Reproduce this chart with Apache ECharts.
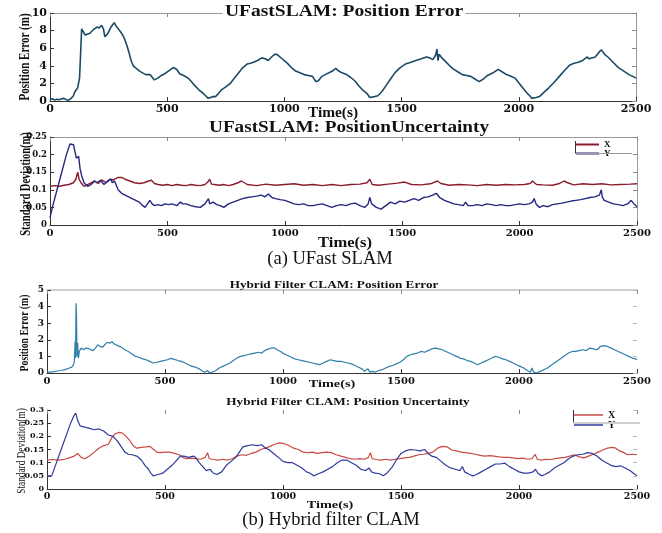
<!DOCTYPE html>
<html><head><meta charset="utf-8">
<script src="https://cdn.jsdelivr.net/npm/echarts/dist/echarts.min.js"></script>
<style>html,body{margin:0;padding:0;background:#fff}#c{width:662px;height:533px}</style>
</head><body><div id="c"></div>
<script>
// ---------- DATA ----------
const xTicks = [0, 500, 1000, 1500, 2000, 2500];

// (a) UFastSLAM: Position Error
const t1 = [0,10,20,30,40,50,60,70,80,90,
  100,105,112,118,126,130,135,140,150,157,
  170,185,200,210,220,228,234,245,260,274,
  285,300,310,319,328,337,346,355,368,382,
  395,409,427,436,445,460,475,490,505,515,
  526,532,540,553,570,589,600,616,634,652,
  664,675,685,695,706,720,733,750,769,787,
  805,823,841,855,868,885,904,918,931,945,
  958,968,976,990,1012,1030,1048,1066,1084,1102,
  1120,1128,1134,1145,1160,1174,1190,1205,1219,1232,
  1246,1265,1282,1300,1318,1336,1354,1364,1372,1385,
  1399,1417,1435,1453,1471,1494,1516,1540,1561,1584,
  1606,1620,1633,1645,1651,1655,1660,1672,1687,1705,
  1723,1741,1759,1777,1795,1813,1831,1849,1867,1890,
  1912,1930,1948,1966,1984,2002,2020,2035,2047,2055,
  2060,2074,2088,2108,2128,2150,2173,2196,2218,2236,
  2254,2272,2290,2300,2308,2326,2344,2353,2366,2380,
  2402,2425,2448,2470,2486,2500];
const err1 = [0.15,0.25,0.1,0.2,0.15,0.25,0.3,0.15,0.1,0.3,
  0.6,1.0,1.2,1.5,2.6,5.0,8.2,8.0,7.5,7.4,
  7.7,8.1,8.4,8.3,8.6,8.2,7.3,7.6,8.4,8.9,
  8.4,7.9,7.5,7.0,6.3,5.5,4.6,4.0,3.7,3.4,
  3.2,3.0,3.0,2.7,2.4,2.6,2.9,3.1,3.4,3.6,
  3.8,3.9,3.6,3.1,2.9,2.6,2.3,1.8,1.3,0.9,
  0.6,0.3,0.4,0.5,0.5,0.9,1.3,1.6,2.0,2.6,
  3.2,3.8,4.2,4.3,4.4,4.6,4.9,4.8,4.6,5.0,
  5.3,5.3,5.1,4.8,4.3,3.8,3.4,3.2,3.0,2.9,
  2.8,2.6,2.2,2.3,2.8,3.0,3.2,3.4,3.7,3.4,
  3.2,3.0,2.7,2.3,1.7,1.2,0.8,0.4,0.2,0.5,
  0.6,1.1,1.8,2.5,3.2,3.8,4.2,4.4,4.6,4.8,
  5.0,4.9,4.7,5.2,5.9,4.6,5.3,4.9,4.5,4.0,
  3.6,3.3,3.0,2.9,2.8,2.5,2.2,2.5,2.9,3.2,
  3.6,3.3,3.0,2.8,2.6,2.0,1.4,0.9,0.6,0.3,
  0.2,0.4,0.5,1.0,1.5,2.1,2.8,3.5,4.1,4.3,
  4.4,4.6,5.0,4.8,4.6,5.0,5.6,5.8,5.3,5.0,
  4.4,3.8,3.4,3.0,2.8,2.6];

// (a) UFastSLAM: Position Uncertainty, Y
const tY2 = [0,10,30,50,70,85,100,106,112,122,
  128,135,145,160,175,190,200,215,230,245,
  260,265,275,290,305,320,335,350,365,380,
  395,405,415,425,435,445,460,475,490,505,
  520,540,555,565,580,600,620,640,660,675,
  680,695,710,725,740,760,780,800,820,840,
  860,880,900,915,930,945,960,980,1000,1020,
  1040,1060,1080,1100,1120,1140,1160,1180,1200,1220,
  1240,1260,1280,1300,1320,1340,1355,1362,1370,1390,
  1410,1430,1450,1470,1490,1510,1530,1550,1570,1590,
  1610,1630,1645,1660,1680,1700,1720,1740,1760,1770,
  1780,1800,1820,1840,1860,1880,1900,1920,1940,1960,
  1980,2000,2020,2040,2055,2062,2070,2085,2100,2120,
  2140,2160,2180,2200,2220,2240,2260,2280,2300,2320,
  2340,2348,2352,2360,2380,2400,2420,2440,2460,2475,
  2490,2500];
const sdY2 = [0.02,0.05,0.10,0.15,0.2,0.23,0.228,0.21,0.19,0.195,
  0.16,0.14,0.12,0.11,0.115,0.125,0.12,0.127,0.115,0.125,
  0.13,0.12,0.125,0.1,0.09,0.085,0.08,0.075,0.07,0.065,
  0.055,0.05,0.06,0.07,0.06,0.055,0.058,0.055,0.06,0.058,
  0.06,0.055,0.065,0.06,0.06,0.055,0.052,0.05,0.06,0.075,
  0.06,0.065,0.058,0.055,0.05,0.06,0.065,0.07,0.075,0.078,
  0.08,0.082,0.085,0.08,0.088,0.078,0.075,0.072,0.07,0.065,
  0.06,0.058,0.06,0.055,0.055,0.058,0.06,0.055,0.05,0.055,
  0.058,0.055,0.06,0.062,0.055,0.05,0.06,0.078,0.06,0.05,
  0.045,0.055,0.065,0.06,0.068,0.065,0.07,0.075,0.07,0.078,
  0.08,0.085,0.09,0.078,0.07,0.065,0.06,0.058,0.055,0.065,
  0.055,0.055,0.058,0.055,0.06,0.058,0.055,0.058,0.055,0.055,
  0.058,0.06,0.058,0.06,0.065,0.075,0.06,0.05,0.055,0.052,
  0.058,0.06,0.062,0.065,0.068,0.07,0.072,0.075,0.078,0.08,
  0.085,0.1,0.08,0.07,0.065,0.06,0.058,0.055,0.06,0.07,
  0.058,0.052];

// (a) UFastSLAM: Position Uncertainty, X
const tX2 = [0,20,40,60,80,100,110,118,124,132,
  145,160,175,190,205,220,240,255,270,290,
  305,320,340,360,380,400,420,432,445,460,
  480,500,520,540,560,580,600,620,640,660,
  672,680,688,700,720,740,760,780,800,815,
  840,880,920,960,1000,1040,1080,1120,1160,1200,
  1240,1280,1320,1350,1362,1372,1400,1440,1480,1510,
  1540,1580,1620,1650,1665,1700,1740,1780,1820,1860,
  1900,1940,1980,2020,2045,2055,2062,2072,2100,2140,
  2170,2190,2205,2230,2270,2310,2350,2390,2430,2470,
  2500];
const sdX2 = [0.11,0.112,0.11,0.113,0.115,0.12,0.13,0.15,0.13,0.12,
  0.11,0.115,0.12,0.125,0.118,0.128,0.12,0.13,0.128,0.135,
  0.135,0.13,0.125,0.12,0.118,0.12,0.125,0.127,0.118,0.115,
  0.113,0.115,0.112,0.115,0.113,0.112,0.115,0.113,0.112,0.115,
  0.122,0.13,0.116,0.115,0.113,0.115,0.112,0.115,0.12,0.125,
  0.115,0.112,0.116,0.113,0.115,0.117,0.113,0.115,0.112,0.115,
  0.112,0.115,0.116,0.12,0.13,0.115,0.113,0.116,0.119,0.122,
  0.115,0.114,0.117,0.125,0.118,0.113,0.115,0.114,0.112,0.115,
  0.113,0.115,0.114,0.115,0.118,0.125,0.13,0.115,0.114,0.113,
  0.118,0.125,0.12,0.114,0.117,0.115,0.117,0.114,0.115,0.116,
  0.117];

// (b) Hybrid Filter CLAM: Position Error
const t3 = [0,15,30,45,60,75,85,95,105,112,
  116,119,121,123,125,127,130,133,137,145,
  155,165,180,195,205,215,225,235,245,255,
  265,275,285,300,315,330,345,360,375,390,
  405,420,435,450,465,480,495,510,525,540,
  555,570,585,600,615,630,645,660,670,680,
  690,700,715,730,745,760,775,790,805,820,
  835,850,865,880,895,910,925,940,955,965,
  975,990,1005,1020,1035,1050,1065,1080,1095,1110,
  1125,1140,1155,1170,1185,1200,1215,1230,1245,1260,
  1275,1290,1305,1320,1335,1345,1352,1360,1368,1380,
  1390,1405,1420,1435,1450,1465,1480,1495,1510,1525,
  1540,1555,1570,1585,1600,1615,1630,1645,1660,1675,
  1690,1705,1720,1735,1750,1765,1780,1795,1810,1825,
  1840,1855,1870,1885,1900,1915,1930,1945,1960,1975,
  1990,2005,2020,2035,2048,2055,2062,2075,2090,2105,
  2120,2135,2150,2165,2180,2195,2210,2225,2240,2255,
  2270,2285,2300,2315,2330,2345,2360,2375,2390,2405,
  2420,2435,2450,2465,2480,2495,2500];
const err3 = [0.05,0.05,0.08,0.12,0.15,0.2,0.25,0.3,0.35,0.5,
  0.7,1.9,0.9,4.2,3.5,1.0,1.8,0.9,1.3,1.5,
  1.4,1.5,1.45,1.35,1.5,1.7,1.6,1.55,1.7,1.85,
  1.8,1.88,1.75,1.65,1.55,1.4,1.3,1.15,1.0,0.95,
  0.85,0.8,0.7,0.6,0.65,0.7,0.75,0.8,0.88,0.82,
  0.75,0.7,0.6,0.5,0.4,0.35,0.25,0.1,0.05,0.15,
  0.0,0.05,0.15,0.3,0.4,0.5,0.6,0.75,0.9,1.0,
  1.05,1.1,1.15,1.2,1.25,1.2,1.38,1.45,1.52,1.5,
  1.4,1.3,1.15,1.05,0.95,0.85,0.8,0.75,0.7,0.65,
  0.6,0.55,0.5,0.6,0.7,0.8,0.75,0.7,0.7,0.65,
  0.6,0.55,0.45,0.35,0.25,0.1,0.0,0.25,0.05,0.1,
  0.05,0.15,0.2,0.3,0.4,0.45,0.55,0.65,0.8,1.0,
  1.1,1.15,1.2,1.3,1.25,1.35,1.45,1.5,1.45,1.4,
  1.3,1.2,1.1,1.0,0.9,0.85,0.75,0.7,0.6,0.5,
  0.6,0.7,0.8,0.9,1.0,0.95,0.85,0.8,0.7,0.6,
  0.5,0.4,0.3,0.15,0.05,0.3,0.05,0.0,0.1,0.2,
  0.3,0.45,0.6,0.75,0.9,1.05,1.2,1.3,1.3,1.35,
  1.4,1.35,1.5,1.45,1.4,1.6,1.65,1.6,1.5,1.4,
  1.3,1.2,1.1,1.0,0.9,0.85,0.8];

// (b) Hybrid Filter CLAM: Position Uncertainty, Y
const tY4 = [0,20,40,60,80,100,115,122,130,140,
  160,180,200,220,240,260,280,300,315,330,
  345,360,380,400,415,430,440,450,470,490,
  510,530,550,565,580,600,620,630,645,660,
  675,690,705,720,740,760,780,800,815,830,
  850,870,890,910,925,940,960,980,1000,1020,
  1040,1060,1080,1100,1115,1130,1150,1170,1190,1210,
  1230,1250,1270,1290,1310,1330,1350,1365,1375,1390,
  1410,1425,1440,1460,1480,1500,1520,1540,1560,1580,
  1600,1615,1630,1650,1670,1690,1710,1730,1750,1760,
  1770,1790,1805,1820,1840,1860,1880,1900,1920,1940,
  1960,1980,2000,2020,2040,2060,2070,2080,2095,2110,
  2130,2150,2170,2190,2210,2230,2250,2270,2290,2310,
  2330,2350,2370,2390,2410,2430,2450,2470,2485,2500];
const sdY4 = [0.05,0.05,0.1,0.15,0.2,0.25,0.28,0.288,0.26,0.24,
  0.235,0.23,0.225,0.228,0.22,0.205,0.2,0.18,0.16,0.14,
  0.132,0.13,0.125,0.11,0.09,0.075,0.06,0.05,0.055,0.06,
  0.075,0.09,0.11,0.125,0.125,0.12,0.125,0.12,0.1,0.085,
  0.07,0.075,0.06,0.055,0.065,0.09,0.105,0.12,0.14,0.16,
  0.165,0.168,0.165,0.168,0.155,0.15,0.135,0.12,0.105,0.1,
  0.1,0.09,0.08,0.065,0.06,0.05,0.058,0.065,0.075,0.085,
  0.1,0.11,0.11,0.1,0.09,0.075,0.07,0.08,0.065,0.06,
  0.058,0.05,0.06,0.08,0.11,0.135,0.145,0.15,0.148,0.145,
  0.15,0.135,0.125,0.12,0.105,0.09,0.08,0.075,0.07,0.085,
  0.065,0.055,0.05,0.055,0.065,0.075,0.085,0.095,0.095,0.098,
  0.085,0.075,0.065,0.06,0.06,0.065,0.075,0.06,0.05,0.055,
  0.065,0.08,0.09,0.1,0.115,0.125,0.13,0.132,0.138,0.135,
  0.125,0.11,0.1,0.09,0.085,0.088,0.08,0.07,0.06,0.05];

// (b) Hybrid Filter CLAM: Position Uncertainty, X
const tX4 = [0,25,50,75,100,115,130,145,160,180,
  200,220,240,260,275,290,305,320,335,350,
  365,380,400,420,435,450,465,480,500,520,
  540,560,575,590,610,630,650,670,680,688,
  705,725,745,765,785,805,825,845,865,885,
  905,925,945,965,985,1005,1025,1045,1065,1085,
  1105,1125,1145,1165,1185,1205,1225,1245,1265,1285,
  1305,1325,1345,1362,1370,1378,1395,1415,1435,1455,
  1475,1495,1515,1535,1555,1575,1595,1615,1635,1655,
  1675,1695,1715,1735,1755,1775,1795,1815,1835,1855,
  1875,1895,1915,1935,1955,1975,1995,2015,2035,2055,
  2068,2078,2095,2115,2135,2155,2175,2195,2215,2235,
  2255,2275,2295,2315,2335,2355,2375,2395,2410,2425,
  2440,2460,2480,2500];
const sdX4 = [0.11,0.112,0.11,0.113,0.12,0.125,0.135,0.12,0.115,0.125,
  0.14,0.155,0.165,0.17,0.195,0.21,0.215,0.212,0.2,0.185,
  0.165,0.155,0.158,0.16,0.162,0.152,0.14,0.138,0.14,0.14,
  0.135,0.13,0.12,0.115,0.117,0.115,0.113,0.12,0.138,0.115,
  0.112,0.11,0.113,0.11,0.115,0.125,0.13,0.128,0.135,0.14,
  0.15,0.155,0.162,0.17,0.175,0.172,0.165,0.155,0.15,0.14,
  0.138,0.14,0.135,0.138,0.14,0.138,0.13,0.125,0.12,0.115,
  0.113,0.115,0.113,0.12,0.138,0.115,0.112,0.11,0.113,0.11,
  0.113,0.115,0.118,0.12,0.125,0.13,0.132,0.135,0.14,0.155,
  0.162,0.16,0.148,0.145,0.14,0.138,0.135,0.132,0.128,0.125,
  0.127,0.125,0.122,0.12,0.12,0.118,0.115,0.117,0.113,0.115,
  0.132,0.112,0.11,0.113,0.112,0.115,0.118,0.12,0.125,0.13,
  0.122,0.118,0.125,0.132,0.14,0.148,0.155,0.158,0.155,0.145,
  0.14,0.13,0.132,0.13];

// ---------- CHART ----------
const SERIF = '"Liberation Serif","Times New Roman",serif';
const DSERIF = '"DejaVu Serif","Liberation Serif",serif';
const pairs = (t, v) => t.map((x, i) => [x, v[i]]);

const grids = [
  {left: 50, top: 13, width: 586, height: 88},
  {left: 50, top: 137, width: 587, height: 88},
  {left: 47, top: 290, width: 590, height: 83},
  {left: 47, top: 410, width: 590, height: 79}
];
const yRanges = [[0, 10, 2], [0, 0.25, 0.05], [0, 5, 1], [0, 0.3, 0.05]];
const xLabelSize = [11, 10, 10, 9.5];
const yLabelSize = [11, 8.5, 9, 8];

const xAxes = [], yAxes = [];
grids.forEach((g, i) => {
  xAxes.push({
    gridIndex: i, type: 'value', position: 'bottom', min: 0, max: 2500, interval: 500,
    axisLine: {show: true, onZero: false, lineStyle: {color: '#333', width: 1}},
    axisTick: {show: true, inside: true, length: 4, lineStyle: {color: '#333'}},
    axisLabel: {fontFamily: DSERIF, fontWeight: 'bold', fontSize: xLabelSize[i], color: '#111', margin: 3,
      formatter: v => xTicks.includes(v) ? String(v) : ''},
    splitLine: {show: false}
  });
  xAxes.push({
    gridIndex: i, type: 'value', position: 'top', min: 0, max: 2500, interval: 500,
    axisLine: {show: i !== 3, onZero: false, lineStyle: {color: i === 2 ? '#cfcfcf' : '#9a9a9a', width: i === 2 ? 2 : 1}},
    axisTick: {show: true, inside: true, length: 4, lineStyle: {color: '#888'}},
    axisLabel: {show: false}, splitLine: {show: false}
  });
  const r = yRanges[i];
  yAxes.push({
    gridIndex: i, type: 'value', position: 'left', min: r[0], max: r[1], interval: r[2],
    axisLine: {show: true, onZero: false, lineStyle: {color: '#333', width: 1}},
    axisTick: {show: true, inside: true, length: 4, lineStyle: {color: '#333'}},
    axisLabel: {fontFamily: DSERIF, fontWeight: 'bold', fontSize: yLabelSize[i], color: '#111', margin: 3},
    splitLine: {show: false}
  });
  yAxes.push({
    gridIndex: i, type: 'value', position: 'right', min: r[0], max: r[1], interval: r[2],
    axisLine: {show: i < 2, onZero: false, lineStyle: {color: '#9a9a9a', width: 1}},
    axisTick: {show: true, inside: true, length: 4, lineStyle: {color: i < 2 ? '#888' : '#bbb'}},
    axisLabel: {show: false}, splitLine: {show: false}
  });
});

function line(name, gi, data, color, width) {
  return {
    name, type: 'line', xAxisIndex: gi * 2, yAxisIndex: gi * 2, data,
    showSymbol: false, symbol: 'none', animation: false,
    lineStyle: {color, width}, itemStyle: {color}
  };
}
const series = [
  line('Position Error', 0, pairs(t1, err1), '#1a4a66', 1.6),
  line('X', 1, pairs(tX2, sdX2), '#8b1c2c', 1.4),
  line('Y', 1, pairs(tY2, sdY2), '#262780', 1.4),
  line('Hybrid Position Error', 2, pairs(t3, err3), '#2f7fab', 1.2),
  line('Hybrid X', 3, pairs(tX4, sdX4), '#c94a44', 1.2),
  line('Hybrid Y', 3, pairs(tY4, sdY4), '#2f3a9c', 1.2)
];

function txt(text, x, y, font, opts) {
  return Object.assign({
    type: 'text', x, y, z: 100,
    style: {text, font, fill: '#111', align: 'center', verticalAlign: 'middle'}
  }, opts || {});
}
const R = Math.PI / 2;
const graphic = [
  txt('UFastSLAM: Position Error', 344, 12, 'bold 16px ' + SERIF,
    {scaleX: 1.22, style: {text: 'UFastSLAM: Position Error', font: 'bold 16px ' + SERIF, fill: '#111', align: 'center', verticalAlign: 'middle', backgroundColor: '#fff', padding: [0, 2]}}),
  txt('Time(s)', 333, 113, 'bold 14px ' + SERIF, {scaleX: 1.1}),
  txt('Position Error (m)', 25, 57, 'bold 11px ' + SERIF, {rotation: R, scaleY: 1.3}),

  txt('UFastSLAM: PositionUncertainty', 349, 128, 'bold 16px ' + SERIF, {scaleX: 1.2}),
  txt('Time(s)', 345, 243, 'bold 15px ' + SERIF, {scaleX: 1.1}),
  txt('Standard Deviation(m)', 26, 184, 'bold 10.5px ' + SERIF, {rotation: R, scaleY: 1.3}),
  txt('(a) UFast SLAM', 330, 259, '18.5px ' + SERIF),

  txt('Hybrid Filter CLAM: Position Error', 334, 285, 'bold 11px ' + SERIF, {scaleX: 1.2}),
  txt('Time(s)', 332, 384, 'bold 11px ' + SERIF, {scaleX: 1.3}),
  txt('Position Error (m)', 25, 333, 'bold 9.7px ' + SERIF, {rotation: R, scaleY: 1.3}),

  txt('Hybrid Filter CLAM: Position Uncertainty', 348, 402, 'bold 11px ' + SERIF, {scaleX: 1.2}),
  txt('Time(s)', 330, 505, 'bold 11px ' + SERIF, {scaleX: 1.3}),
  txt('Standard Deviation(m)', 22, 451, '9.3px ' + SERIF, {rotation: R, scaleY: 1.3}),
  txt('(b) Hybrid filter CLAM', 331, 520, '18.5px ' + SERIF),

  // legend frames
  {type: 'line', z: 90, shape: {x1: 575.5, y1: 141, x2: 575.5, y2: 153}, style: {stroke: '#333', lineWidth: 1}},
  {type: 'line', z: 90, shape: {x1: 575, y1: 153.5, x2: 632, y2: 153.5}, style: {stroke: '#999', lineWidth: 1}},
  {type: 'line', z: 90, shape: {x1: 573.5, y1: 410, x2: 573.5, y2: 423}, style: {stroke: '#333', lineWidth: 1}},
  {type: 'line', z: 90, shape: {x1: 573, y1: 423, x2: 640, y2: 423}, style: {stroke: '#cfcfcf', lineWidth: 2}}
];

const legendText = {fontFamily: SERIF, fontWeight: 'bold', fontSize: 9, color: '#111'};
const option = {
  backgroundColor: '#fff',
  animation: false,
  grid: grids,
  xAxis: xAxes,
  yAxis: yAxes,
  series,
  legend: [
    {data: ['X', 'Y'], orient: 'vertical', left: 576, top: 140, padding: 0, itemGap: 0,
      itemWidth: 23, itemHeight: 2, icon: 'rect', selectedMode: false,
      textStyle: Object.assign({lineHeight: 6}, legendText)},
    {data: ['Hybrid X', 'Hybrid Y'], orient: 'vertical', left: 574, top: 410, padding: 0, itemGap: 0,
      itemWidth: 29, itemHeight: 1.5, icon: 'rect', selectedMode: false,
      formatter: n => n.replace('Hybrid ', ''),
      textStyle: Object.assign({lineHeight: 7}, legendText, {fontSize: 10})}
  ],
  graphic
};
const chart = echarts.init(document.getElementById('c'), null, {renderer: 'canvas'});
chart.setOption(option);
</script>
</body></html>
